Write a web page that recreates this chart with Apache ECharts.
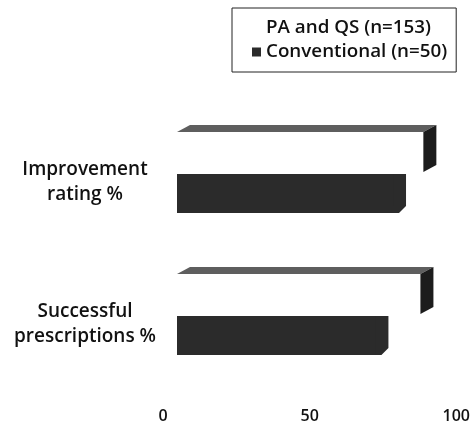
<!DOCTYPE html>
<html><head><meta charset="utf-8">
<script src="https://cdn.jsdelivr.net/npm/echarts@6/dist/echarts.min.js"></script>
<style>html,body{margin:0;padding:0;background:#fff}#c{width:473px;height:431px}</style>
</head><body><div id="c"></div>
<script>
const categories = ['Improvement\nrating %', 'Successful\nprescriptions %'];
const seriesNames = ['PA and QS (n=153)', 'Conventional (n=50)'];
const paValues = [84, 83];
const convValues = [74, 68];
const xTicks = [0, 50, 100];

const FONT = 'Open Sans';
const DEPTH_X = 13, DEPTH_Y = 7, SHIFT = 14;

function render3D(opts) {
  return function (params, api) {
    const v = api.value(0), c = api.value(1);
    const p0 = api.coord([0, c]);
    const p1 = api.coord([v, c]);
    const band = api.size([0, 1])[1];
    const x0 = p0[0] + SHIFT, x1 = p1[0] + SHIFT;
    const yTop = p0[1] + band * opts.top, yBot = p0[1] + band * opts.bot;
    const children = [];
    children.push({ type: 'rect', shape: { x: x0, y: yTop, width: x1 - x0, height: yBot - yTop },
      style: { fill: opts.front } });
    if (opts.topFace) {
      children.push({ type: 'polygon', shape: { points: [[x0, yTop], [x1, yTop], [x1 + DEPTH_X, yTop - DEPTH_Y], [x0 + DEPTH_X, yTop - DEPTH_Y]] },
        style: { fill: opts.topFace } });
      children.push({ type: 'polygon', shape: { points: [[x1, yTop], [x1 + DEPTH_X, yTop - DEPTH_Y], [x1 + DEPTH_X, yBot - DEPTH_Y], [x1, yBot]] },
        style: { fill: opts.side } });
    } else {
      children.push({ type: 'polygon', shape: { points: [[x1 - 1, yTop], [x1 + DEPTH_X - 1, yTop], [x1 + DEPTH_X - 1, yBot - DEPTH_Y], [x1 + DEPTH_X - 1 - DEPTH_Y, yBot], [x1 - 1, yBot]] },
        style: { fill: opts.side } });
    }
    return { type: 'group', children: children };
  };
}

const chart = echarts.init(document.getElementById('c'), null, { renderer: 'canvas' });
chart.setOption({
  backgroundColor: '#fff',
  animation: false,
  textStyle: { fontFamily: FONT },
  legend: {
    orient: 'vertical',
    left: 232, top: 8,
    padding: [8, 9, 8, 20],
    borderColor: '#222', borderWidth: 1,
    itemWidth: 9, itemHeight: 9, itemGap: 0,
    icon: 'rect',
    textStyle: { fontFamily: FONT, fontSize: 18.8, fontWeight: 600, color: '#111', lineHeight: 24 },
    data: seriesNames
  },
  grid: { left: 163, right: 15, top: 99, bottom: 48, containLabel: false },
  xAxis: {
    type: 'value', min: 0, max: 100, interval: 50,
    axisLine: { show: false }, axisTick: { show: false }, splitLine: { show: false },
    axisLabel: { fontFamily: FONT, fontSize: 16, fontWeight: 600, color: '#111', margin: 25,
      formatter: function (v) { return xTicks.indexOf(v) >= 0 ? String(v) : ''; } }
  },
  yAxis: {
    type: 'category', data: categories, inverse: true,
    axisLine: { show: false }, axisTick: { show: false }, splitLine: { show: false },
    axisLabel: { fontFamily: FONT, fontSize: 19, fontWeight: 600, color: '#111', align: 'center', margin: 78,
      lineHeight: 25, formatter: function (v) { return '\n' + v; } }
  },
  series: [
    { name: seriesNames[0], type: 'custom', itemStyle: { color: '#ffffff' },
      encode: { x: 0, y: 1 },
      renderItem: render3D({ top: -0.268, bot: 0.014, front: '#ffffff', topFace: '#5e5e5e', side: '#1c1c1c' }),
      data: paValues.map((v, i) => [v, i]) },
    { name: seriesNames[1], type: 'custom', itemStyle: { color: '#2b2b2b' },
      encode: { x: 0, y: 1 },
      renderItem: render3D({ top: 0.028, bot: 0.303, front: '#2b2b2b', topFace: null, side: '#2b2b2b' }),
      data: convValues.map((v, i) => [v, i]) }
  ]
});
</script></body></html>
